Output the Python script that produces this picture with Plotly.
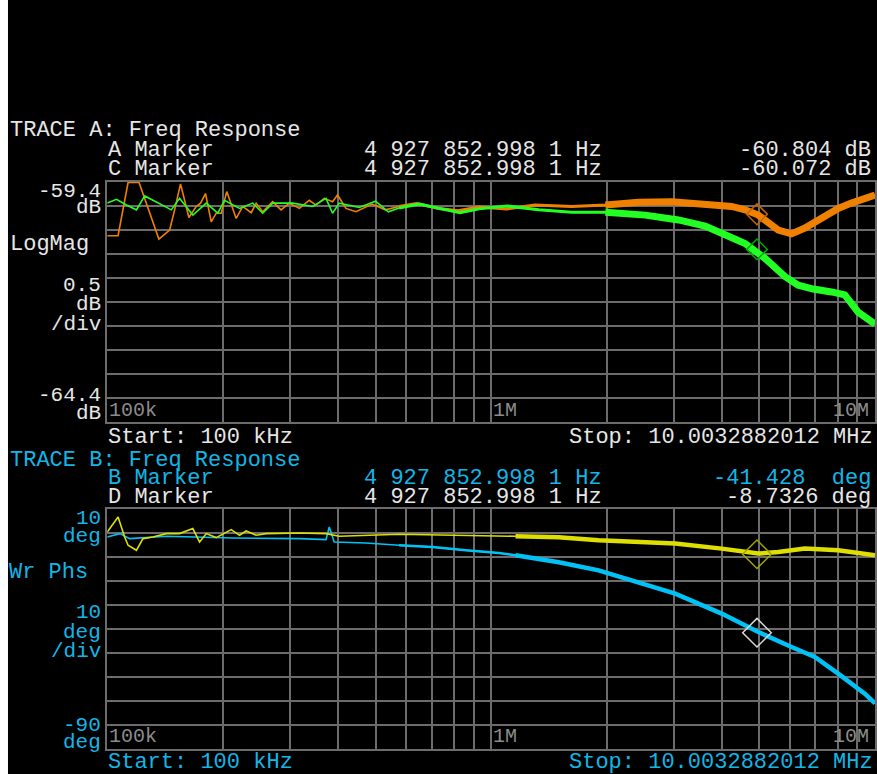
import math
import plotly.graph_objects as go

W, H = 877, 774

# ---------------- data ----------------
# Trace C (orange) magnitude, dB
freq_c = [100e3, 106.7e3, 113.3e3, 121.0e3, 136.3e3, 145.4e3, 149.8e3, 155.2e3, 163.2e3,
          170.5e3, 175.0e3, 180.3e3, 186.6e3, 192.2e3, 198.1e3, 204.8e3, 216.7e3, 225.4e3,
          237.1e3, 244.3e3, 254.1e3, 269.8e3, 283.6e3, 298.1e3, 316.6e3, 336.0e3, 349.8e3,
          367.6e3, 386.4e3, 398.1e3, 418.7e3, 444.4e3, 490e3, 530e3, 575.8e3, 640e3, 731.6e3,
          820e3, 929.6e3, 1.10e6, 1.30e6, 1.622e6,
          1.985e6, 2.423e6, 2.957e6, 3.469e6, 3.910e6, 4.234e6, 4.587e6, 4.968e6, 5.599e6,
          6.064e6, 6.570e6, 7.114e6, 8.020e6, 8.683e6, 9.408e6, 10.003e6]
mag_c = [-60.52, -60.52, -59.41, -59.41, -60.59, -60.40, -59.98, -59.44, -60.14,
         -59.91, -59.84, -59.64, -60.23, -60.05, -60.05, -59.60, -60.16, -59.91,
         -60.04, -59.84, -60.02, -59.81, -59.98, -59.84, -59.95, -59.78, -59.88,
         -59.74, -59.81, -59.67, -59.95, -60.02, -59.86, -59.98, -59.91, -59.85, -59.95,
         -60.00, -59.92, -59.96, -59.88, -59.91,
         -59.88, -59.82, -59.81, -59.84, -59.88, -59.91, -59.98, -60.09, -60.40,
         -60.48, -60.36, -60.19, -59.95, -59.84, -59.73, -59.67]

# Trace A (green) magnitude, dB
freq_a = [100e3, 105.7e3, 112.2e3, 119.1e3, 125.2e3, 134.2e3, 146.9e3, 154.3e3, 167.1e3,
          181.1e3, 194.1e3, 202.0e3, 221.1e3, 239.3e3, 254.1e3, 269.8e3, 304.1e3, 342.8e3,
          371.4e3, 386.4e3, 402.1e3, 453.3e3, 500e3, 540e3, 575.8e3, 650e3, 731.6e3, 830e3,
          929.6e3, 1.10e6, 1.331e6, 1.622e6,
          1.985e6, 2.521e6, 3.077e6, 3.611e6, 4.070e6, 4.587e6, 5.171e6, 5.828e6, 6.311e6,
          6.904e6, 7.705e6, 8.347e6, 9.040e6, 10.003e6]
mag_a = [-59.84, -59.76, -59.88, -59.98, -59.69, -59.81, -59.98, -59.74, -60.09,
         -59.84, -60.05, -59.78, -59.95, -59.84, -60.05, -59.84, -59.84, -59.91,
         -59.74, -60.05, -59.84, -59.93, -59.80, -60.02, -59.94, -59.86, -59.95, -60.04,
         -59.96, -59.90, -59.98, -60.03,
         -60.03, -60.09, -60.19, -60.32, -60.50, -60.68, -60.99, -61.37, -61.55,
         -61.63, -61.69, -61.75, -62.11, -62.36]

# Trace D (yellow) phase, deg
freq_d = [100e3, 106.7e3, 111.0e3, 113.3e3, 119.1e3, 123.9e3, 131.5e3, 142.5e3, 154.3e3,
          167.1e3, 174.0e3, 181.1e3, 192.2e3, 210.3e3, 221.1e3, 230.1e3, 244.3e3, 259.3e3,
          316.6e3, 371.4e3, 402.1e3, 575.8e3, 1.158e6, 1.501e6, 1.906e6, 3.017e6, 3.987e6,
          4.968e6, 5.599e6, 6.570e6, 8.020e6, 10.003e6]
phase_d = [0.54, 6.79, -1.54, -5.00, -7.08, -2.21, -1.54, -0.13, -0.13,
           1.96, -3.63, -0.13, -1.79, 1.54, -0.83, 0.96, -0.83, -0.13,
           0.13, -0.13, -1.25, -0.42, -1.25, -1.67, -2.92, -4.29, -6.38,
           -8.46, -7.79, -6.38, -7.08, -9.17]

# Trace B (blue) phase, deg
freq_b = [100e3, 107.8e3, 114.4e3, 142.5e3, 212.3e3, 316.6e3, 371.4e3, 378.8e3, 390.2e3,
          471.8e3, 575.8e3, 702.9e3, 858.5e3, 1.048e6, 1.158e6, 1.501e6, 1.906e6, 2.328e6,
          3.017e6, 3.987e6, 4.968e6, 6.064e6, 6.974e6, 8.020e6, 9.408e6, 10.003e6]
phase_b = [-1.54, -0.13, -2.21, -1.25, -1.96, -2.21, -2.63, 2.63, -3.63,
           -4.04, -5.00, -5.71, -7.08, -8.21, -9.17, -12.08, -15.42, -19.58,
           -25.13, -33.46, -41.13, -47.38, -51.54, -58.46, -66.79, -70.83]

marker_freq = 4927852.9981
marker_a = -60.804
marker_c = -60.072
marker_b = -41.428
marker_d = -8.7326

start_hz = 100e3
stop_hz = 10.0032882012e6
mag_top, mag_bottom = -59.4, -64.4
ph_top, ph_bottom = 10, -90

grid_freqs = [100e3, 200e3, 300e3, 400e3, 500e3, 600e3, 700e3, 800e3, 900e3,
              1e6, 2e6, 3e6, 4e6, 5e6, 6e6, 7e6, 8e6, 9e6, 10e6]
freq_tick_labels = [(100e3, "100k"), (1e6, "1M"), (10e6, "10M")]

# ---------------- styling ----------------
WHITE = "#e6e6e6"
CYAN = "#12b6e6"
GRID = "#6c6c6c"
AXLBL = "#8c8c8c"
ORANGE = "#f08000"
GREEN = "#22ff22"
YELLOW = "#dede00"
BLUE = "#00c2f4"
FONT = "Liberation Mono"


def px(x):
    return x / W


def py(y):
    return 1 - y / H


fig = go.Figure()


def add_line(f, v, color, width, xa, ya, lo=0.0):
    ff = [a for a in f if a >= lo]
    vv = [b for a, b in zip(f, v) if a >= lo]
    fig.add_trace(go.Scatter(x=ff, y=vv, mode="lines", xaxis=xa, yaxis=ya,
                             line=dict(color=color, width=width), showlegend=False,
                             hoverinfo="skip"))


# top: orange (C) then green (A)
add_line(freq_c, mag_c, ORANGE, 1.6, "x", "y")
add_line(freq_c, mag_c, ORANGE, 3, "x", "y", lo=575e3)
add_line(freq_c, mag_c, ORANGE, 7, "x", "y", lo=1.985e6)
add_line(freq_a, mag_a, GREEN, 1.6, "x", "y")
add_line(freq_a, mag_a, GREEN, 3, "x", "y", lo=575e3)
add_line(freq_a, mag_a, GREEN, 7, "x", "y", lo=1.985e6)

# bottom: blue (B) then yellow (D)
add_line(freq_b, phase_b, BLUE, 1.6, "x2", "y2")
add_line(freq_b, phase_b, BLUE, 2.5, "x2", "y2", lo=575e3)
add_line(freq_b, phase_b, BLUE, 4.5, "x2", "y2", lo=1.158e6)
add_line(freq_d, phase_d, YELLOW, 1.6, "x2", "y2")
add_line(freq_d, phase_d, YELLOW, 4.5, "x2", "y2", lo=1.158e6)

# markers
for yv, xa, ya, col, sz in [(marker_c, "x", "y", "#c86400", 16),
                            (marker_a, "x", "y", "#00a800", 16),
                            (marker_d, "x2", "y2", "#a4a400", 22),
                            (marker_b, "x2", "y2", "#d8d8d8", 22)]:
    fig.add_trace(go.Scatter(x=[marker_freq], y=[yv], mode="markers", xaxis=xa, yaxis=ya,
                             marker=dict(symbol="diamond-open", size=sz, color=col,
                                         line=dict(width=1.5, color=col)),
                             showlegend=False, hoverinfo="skip"))

xr = [math.log10(start_hz), math.log10(stop_hz)]
xdom = [px(107.5), 1.0]
ax_common = dict(type="log", range=xr, domain=xdom, tickvals=grid_freqs, showticklabels=False,
                 showgrid=True, gridcolor=GRID, gridwidth=1.5, zeroline=False,
                 showline=True, linecolor=GRID, linewidth=1.5, mirror=True, ticks="")
y_common = dict(showticklabels=False, showgrid=True, gridcolor=GRID, gridwidth=1.5,
                zeroline=False, showline=True, linecolor=GRID, linewidth=1.5, mirror=True,
                ticks="")

mag_ticks = [round(mag_bottom + 0.5 * i, 2) for i in range(11)]
ph_ticks = [ph_bottom + 10 * i for i in range(11)]

fig.update_layout(
    width=W, height=H, margin=dict(l=0, r=0, t=0, b=0),
    paper_bgcolor="black", plot_bgcolor="black",
    xaxis=dict(**ax_common, anchor="y"),
    yaxis=dict(**y_common, range=[mag_bottom, mag_top], tickvals=mag_ticks,
               domain=[py(422), py(182)], anchor="x"),
    xaxis2=dict(**ax_common, anchor="y2"),
    yaxis2=dict(**y_common, range=[ph_bottom, ph_top], tickvals=ph_ticks,
                domain=[py(749.3), py(509.3)], anchor="x2"),
)

# white strip on the left edge
fig.add_shape(type="rect", xref="paper", yref="paper", x0=0, x1=px(8), y0=0, y1=1,
              fillcolor="white", line=dict(width=0), layer="above")

ann = []


def txt(x, y, s, color=WHITE, anchor="left", size=22):
    ann.append(dict(x=px(x), y=py(y + 1.5), xref="paper", yref="paper", text=s, showarrow=False,
                    xanchor=anchor, yanchor="middle", borderpad=0,
                    font=dict(family=FONT, size=size, color=color)))


# ----- trace A header -----
txt(9, 129, "TRACE A: Freq Response")
txt(107, 149, "A Marker")
txt(364, 149, "4 927 852.998 1 Hz")
txt(874, 149, "-60.804 dB", anchor="right")
txt(107, 168, "C Marker")
txt(364, 168, "4 927 852.998 1 Hz")
txt(874, 168, "-60.072 dB", anchor="right")

txt(102, 190, f"{mag_top}", anchor="right", size=21)
txt(102, 206, "dB", anchor="right", size=21)
txt(9, 243, "LogMag")
txt(102, 284, "0.5", anchor="right", size=21)
txt(102, 303, "dB", anchor="right", size=21)
txt(102, 323, "/div", anchor="right", size=21)
txt(102, 394, f"{mag_bottom}", anchor="right", size=21)
txt(102, 412, "dB", anchor="right", size=21)
txt(107, 435.5, "Start: 100 kHz")
txt(876, 435.5, "Stop: 10.0032882012 MHz", anchor="right")

# ----- trace B header -----
txt(9, 459, "TRACE B: Freq Response", color=CYAN)
txt(107, 477, "B Marker", color=CYAN)
txt(364, 477, "4 927 852.998 1 Hz", color=CYAN)
txt(874, 477, "-41.428  deg", color=CYAN, anchor="right")
txt(107, 496, "D Marker")
txt(364, 496, "4 927 852.998 1 Hz")
txt(874, 496, "-8.7326 deg", anchor="right")

txt(102, 517, f"{ph_top}", color=CYAN, anchor="right", size=21)
txt(102, 535, "deg", color=CYAN, anchor="right", size=21)
txt(8, 571, "Wr Phs", color=CYAN)
txt(102, 611, "10", color=CYAN, anchor="right", size=21)
txt(102, 631, "deg", color=CYAN, anchor="right", size=21)
txt(102, 650, "/div", color=CYAN, anchor="right", size=21)
txt(102, 724, f"{ph_bottom}", color=CYAN, anchor="right", size=21)
txt(102, 741, "deg", color=CYAN, anchor="right", size=21)
txt(107, 760.5, "Start: 100 kHz", color=CYAN)
txt(876, 760.5, "Stop: 10.0032882012 MHz", color=CYAN, anchor="right")

# frequency labels inside each plot
for f, lab in freq_tick_labels:
    xpix = 107.5 + (math.log10(f) - xr[0]) / (xr[1] - xr[0]) * (W - 107.5)
    for ylab in (410, 736):
        if f >= 10e6:
            ann.append(dict(x=px(xpix - 4), y=py(ylab), xref="paper", yref="paper", text=lab,
                            showarrow=False, xanchor="right", yanchor="middle",
                            font=dict(family=FONT, size=20, color=AXLBL)))
        else:
            ann.append(dict(x=px(xpix), y=py(ylab), xref="paper", yref="paper", text=lab,
                            showarrow=False, xanchor="left", yanchor="middle",
                            font=dict(family=FONT, size=20, color=AXLBL)))

fig.update_layout(annotations=ann)
fig.write_html("out.html", config={"displayModeBar": False},
               post_script="document.body.style.margin='0';")
